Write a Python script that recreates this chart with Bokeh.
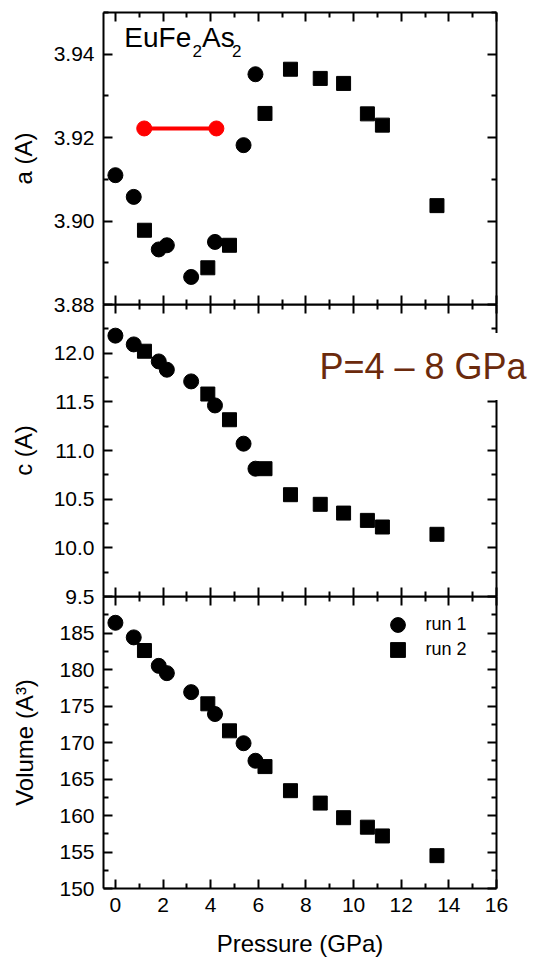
from bokeh.plotting import figure
from bokeh.models import (Range1d, LinearAxis, FixedTicker, Label, Legend,
                          LegendItem, NumeralTickFormatter, CustomLabelingPolicy)
from bokeh.layouts import column
from bokeh.embed import file_html
from bokeh.resources import INLINE

FONT = "Liberation Sans"

# ---- data ----
run1_p = [0.0, 0.77, 1.82, 2.16, 3.18, 4.18, 5.38, 5.88]
run1_a = [3.9110, 3.9058, 3.8932, 3.8942, 3.8866, 3.8950, 3.9182, 3.9352]
run1_c = [12.18, 12.09, 11.915, 11.83, 11.71, 11.463, 11.07, 10.813]
run1_v = [186.4, 184.4, 180.5, 179.5, 176.9, 173.9, 169.9, 167.5]

run2_p = [1.22, 3.88, 4.79, 6.28, 7.35, 8.60, 9.58, 10.58, 11.21, 13.50]
run2_a = [3.8978, 3.8888, 3.8942, 3.9258, 3.9364, 3.9342, 3.9330, 3.9257, 3.9230, 3.9037]
run2_c = [12.02, 11.58, 11.316, 10.813, 10.546, 10.447, 10.357, 10.282, 10.214, 10.139]
run2_v = [182.6, 175.3, 171.6, 166.7, 163.4, 161.7, 159.7, 158.4, 157.2, 154.5]

red_p = [1.21, 4.24]
red_a = [3.9222, 3.9222]

x_major = [0, 2, 4, 6, 8, 10, 12, 14, 16]
x_minor = [1, 3, 5, 7, 9, 11, 13, 15]
a_major = [3.88, 3.90, 3.92, 3.94]
a_minor = [3.89, 3.91, 3.93, 3.95]
c_major = [9.5, 10.0, 10.5, 11.0, 11.5, 12.0]
c_minor = [9.75, 10.25, 10.75, 11.25, 11.75, 12.25]
v_major = [150, 155, 160, 165, 170, 175, 180, 185]
v_minor = [152.5, 157.5, 162.5, 167.5, 172.5, 177.5, 182.5, 187.5]

xr = Range1d(-0.5, 16)
EXT = 14  # extra canvas below a frame so that the boundary tick label is whole


def make_axis(ticker, labels, fmt=None):
    ax = LinearAxis(ticker=ticker,
                    major_tick_in=9, major_tick_out=0,
                    minor_tick_in=5, minor_tick_out=0,
                    axis_line_width=2, major_tick_line_width=2,
                    minor_tick_line_width=2,
                    axis_line_color="black", major_tick_line_color="black",
                    minor_tick_line_color="black")
    if fmt is not None:
        ax.formatter = fmt
    if labels:
        ax.major_label_text_font = FONT
        ax.major_label_text_font_size = "21px"
        ax.major_label_text_color = "black"
        ax.major_label_standoff = 9
        ax.axis_label_text_font = FONT
        ax.axis_label_text_font_size = "24px"
        ax.axis_label_text_font_style = "normal"
        ax.axis_label_text_color = "black"
    else:
        ax.major_label_policy = CustomLabelingPolicy(code="return []")
        ax.major_label_text_font_size = "0px"
        ax.major_label_standoff = 0
    return ax


def panel(y0, y1, ymaj, ymin, fmt, ylabel, ystand, btop, bbot, xlabels):
    p = figure(frame_width=393, frame_height=292, x_range=xr,
               y_range=Range1d(y0, y1), title=None,
               x_axis_location=None, y_axis_location=None,
               output_backend="svg", toolbar_location=None,
               min_border_left=103, min_border_right=41,
               min_border_top=btop, min_border_bottom=bbot)
    p.grid.visible = False
    p.outline_line_color = None
    p.border_fill_alpha = 0
    p.background_fill_alpha = 0
    yt = FixedTicker(ticks=ymaj, minor_ticks=ymin)
    xt = FixedTicker(ticks=x_major, minor_ticks=x_minor)
    left = make_axis(yt, True, fmt)
    left.axis_label = ylabel
    left.axis_label_standoff = ystand
    p.add_layout(left, "left")
    p.add_layout(make_axis(yt, False), "right")
    p.add_layout(make_axis(xt, False), "above")
    bottom = make_axis(xt, xlabels)
    if xlabels:
        bottom.axis_label = "Pressure (GPa)"
        bottom.axis_label_standoff = 15
    p.add_layout(bottom, "below")
    return p


# ---- panel a ----
pa = panel(3.88, 3.95, a_major, a_minor, NumeralTickFormatter(format="0.00"),
           "a (A)", 14, 12, EXT, False)
pa.margin = (0, 0, -EXT, 0)
pa.line(red_p, red_a, line_color="#ff0000", line_width=4)
pa.scatter(red_p, red_a, marker="circle", size=15, fill_color="#ff0000",
           line_color="#ff0000")
pa.scatter(run1_p, run1_a, marker="circle", size=15, fill_color="black",
           line_color="black")
pa.scatter(run2_p, run2_a, marker="square", size=14, fill_color="black",
           line_color="black")
for txt, x, y, fs in [("EuFe", 0.375, 3.9441, "28px"), ("2", 3.24, 3.9407, "17px"),
                      ("As", 3.64, 3.9441, "28px"), ("2", 4.89, 3.9407, "17px")]:
    pa.add_layout(Label(x=x, y=y, text=txt, text_font=FONT, text_font_size=fs,
                        text_color="black", text_baseline="alphabetic"))

# ---- panel c ----
pc = panel(9.5, 12.5, c_major, c_minor, NumeralTickFormatter(format="0.0"),
           "c (A)", 14, 0, EXT, False)
pc.margin = (0, 0, -EXT, 0)
pc.scatter(run1_p, run1_c, marker="circle", size=15, fill_color="black",
           line_color="black")
pc.scatter(run2_p, run2_c, marker="square", size=14, fill_color="black",
           line_color="black")

# ---- overlay strip for the "P=4 - 8 GPa" note (it crosses the right axis) ----
pt = figure(frame_width=537, frame_height=80, title=None,
            x_range=Range1d(0, 537), y_range=Range1d(0, 80),
            x_axis_location=None, y_axis_location=None, output_backend="svg",
            toolbar_location=None, min_border=0,
            min_border_left=0, min_border_right=0,
            min_border_top=0, min_border_bottom=0)
pt.grid.visible = False
pt.outline_line_color = None
pt.border_fill_alpha = 0
pt.background_fill_alpha = 0
pt.margin = (-271, 0, 191, 0)
pt.add_layout(Label(x=203, y=39, text="P=4 \u2013 8 GPa", text_font=FONT,
                    text_font_size="36px", text_color="#6b2a0c",
                    text_align="left", text_baseline="alphabetic",
                    background_fill_color="white", padding=13))

# ---- panel V ----
pv = panel(150, 190, v_major, v_minor, NumeralTickFormatter(format="0"),
           "Volume (A\u00b3)", 18, 0, 75, True)
r1 = pv.scatter(run1_p, run1_v, marker="circle", size=15, fill_color="black",
                line_color="black")
r2 = pv.scatter(run2_p, run2_v, marker="square", size=14, fill_color="black",
                line_color="black")
for item, loc in [(LegendItem(label="run 1", renderers=[r1]), (275.5, 245.5)),
                  (LegendItem(label="run 2", renderers=[r2]), (275.5, 220.5))]:
    leg = Legend(items=[item], location=loc, glyph_width=37, glyph_height=37,
                 spacing=0, padding=0, margin=0, label_standoff=10,
                 label_text_font=FONT, label_text_font_size="18px",
                 label_text_color="black", border_line_color=None,
                 background_fill_alpha=0)
    pv.add_layout(leg, "center")

layout = column(pa, pc, pt, pv, spacing=0)
open("out.html", "w").write(file_html(layout, INLINE))
